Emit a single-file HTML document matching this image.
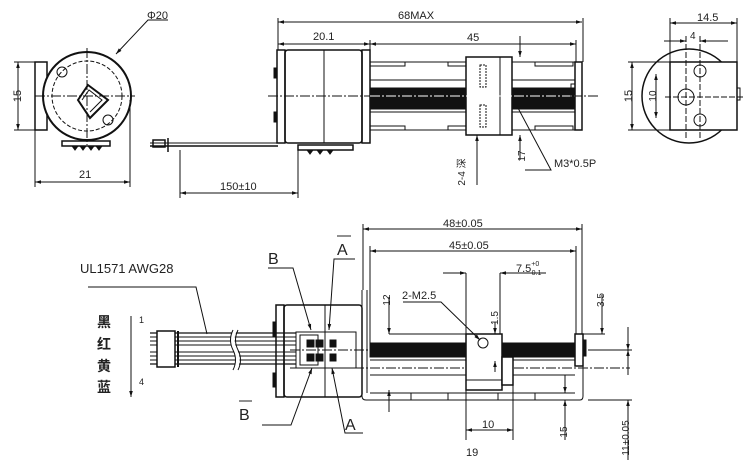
<!DOCTYPE html>
<html><head><meta charset="utf-8"><style>
html,body{margin:0;padding:0;background:#fff}
svg{display:block}
text{font-family:"Liberation Sans","Noto Sans CJK SC",sans-serif;fill:#222}
</style></head><body>
<svg width="750" height="474" viewBox="0 0 750 474" xmlns="http://www.w3.org/2000/svg">
<defs>
<marker id="a" viewBox="0 0 10 10" refX="10" refY="5" markerWidth="8" markerHeight="6" orient="auto-start-reverse"><path d="M0,2 L10,5 L0,8z" fill="#111"/></marker>
</defs>
<g stroke="#111" fill="none" stroke-width="1">
<!-- ===== top-left end view ===== -->
<rect x="35" y="62" width="12" height="68" stroke-width="1.5"/>
<circle cx="87" cy="96" r="44" stroke-width="2" fill="#fff"/>
<circle cx="87" cy="96" r="35" stroke-dasharray="4,2"/>
<line x1="35" y1="96" x2="135" y2="96" stroke-dasharray="10,2,2,2"/>
<line x1="87" y1="48" x2="87" y2="145" stroke-dasharray="10,2,2,2"/>
<circle cx="62" cy="72" r="5"/><circle cx="108" cy="120" r="5"/>
<path d="M78,100 L88,85 L108,100 L90,118 Z" stroke-width="2"/>
<path d="M82,100 L89,90 L102,100 L90,112" stroke-width="1"/>
<rect x="62" y="141" width="48" height="5" stroke-width="1.5"/>
<path d="M72,146 l3,4 3,-4 M80,146 l3,4 3,-4 M88,146 l3,4 3,-4 M96,146 l3,4 3,-4" fill="#111"/>
<line x1="18" y1="62" x2="18" y2="130" marker-start="url(#a)" marker-end="url(#a)"/>
<line x1="14" y1="62" x2="35" y2="62"/><line x1="14" y1="130" x2="35" y2="130"/>
<line x1="35" y1="130" x2="35" y2="187"/><line x1="130" y1="100" x2="130" y2="187"/>
<line x1="35" y1="182" x2="130" y2="182" marker-start="url(#a)" marker-end="url(#a)"/>
<path d="M168,20 L148,20 L116,54" marker-end="url(#a)"/>
<!-- ===== top middle side view ===== -->
<rect x="277" y="50" width="8" height="93" stroke-width="1.5"/>
<rect x="285" y="50" width="77" height="93" rx="3" stroke-width="1.5"/>
<line x1="324" y1="50" x2="324" y2="143"/>
<rect x="362" y="50" width="8" height="93" stroke-width="1.5"/>
<rect x="274" y="68" width="3" height="10" fill="#111"/><rect x="274" y="112" width="3" height="10" fill="#111"/>
<line x1="268" y1="96" x2="600" y2="96" stroke-dasharray="10,2,2,2"/>
<rect x="370" y="62" width="205" height="68"/>
<rect x="370" y="62" width="35" height="4"/><rect x="448" y="62" width="18" height="4"/><rect x="535" y="62" width="38" height="4"/>
<rect x="370" y="126" width="35" height="4"/><rect x="448" y="126" width="18" height="4"/><rect x="535" y="126" width="38" height="4"/>
<line x1="370" y1="80" x2="575" y2="80"/><line x1="370" y1="112" x2="575" y2="112"/>
<rect x="370" y="88" width="205" height="21" fill="#111"/>
<rect x="466" y="57" width="46" height="78" fill="#fff" stroke-width="1.5"/>
<line x1="500" y1="57" x2="500" y2="135"/>
<rect x="480" y="65" width="6" height="22" stroke-dasharray="2,1"/><rect x="480" y="105" width="6" height="22" stroke-dasharray="2,1"/>
<line x1="370" y1="96" x2="575" y2="96" stroke="#fff" stroke-dasharray="10,2,2,2"/>
<rect x="575" y="62" width="7" height="68" stroke-width="1.5"/>
<rect x="571" y="84" width="4" height="24"/>
<line x1="150" y1="146" x2="278" y2="146" stroke-width="1.5"/>
<line x1="150" y1="143" x2="278" y2="143"/>
<rect x="153" y="140" width="12" height="7" stroke-width="1.5"/>
<line x1="168" y1="138" x2="168" y2="152" stroke-width="1.5"/>
<rect x="298" y="145" width="55" height="5" stroke-width="1.5" fill="#fff"/>
<path d="M307,150 l3,4 3,-4 M317,150 l3,4 3,-4 M327,150 l3,4 3,-4" fill="#111"/>
<line x1="278" y1="18" x2="278" y2="50"/><line x1="583" y1="18" x2="583" y2="62"/>
<line x1="278" y1="22" x2="582" y2="22" marker-start="url(#a)" marker-end="url(#a)"/>
<line x1="370" y1="40" x2="370" y2="50"/><line x1="576" y1="40" x2="576" y2="62"/>
<line x1="278" y1="44" x2="370" y2="44" marker-start="url(#a)" marker-end="url(#a)"/>
<line x1="370" y1="44" x2="576" y2="44" marker-start="url(#a)" marker-end="url(#a)"/>
<line x1="180" y1="150" x2="180" y2="198"/><line x1="298" y1="150" x2="298" y2="198"/>
<line x1="180" y1="193" x2="298" y2="193" marker-start="url(#a)" marker-end="url(#a)"/>
<line x1="520" y1="36" x2="520" y2="57" marker-end="url(#a)"/><line x1="520" y1="135" x2="520" y2="160" marker-start="url(#a)"/>
<line x1="477" y1="135" x2="477" y2="185" marker-start="url(#a)"/>
<path d="M525,170 L551,170 L518,108"/>
<!-- ===== top right end view ===== -->
<circle cx="689" cy="96" r="47" stroke-width="1.5"/>
<rect x="670" y="62" width="67" height="68" stroke-width="1.5" fill="#fff"/>
<rect x="737" y="88" width="3" height="12"/>
<circle cx="686" cy="97" r="8"/><circle cx="700" cy="71" r="6"/><circle cx="700" cy="120" r="6"/>
<line x1="665" y1="97" x2="745" y2="97" stroke-dasharray="6,2"/>
<line x1="686" y1="36" x2="686" y2="140" stroke-dasharray="6,2"/><line x1="700" y1="36" x2="700" y2="140" stroke-dasharray="6,2"/>
<line x1="670" y1="18" x2="670" y2="62"/><line x1="737" y1="18" x2="737" y2="62"/>
<line x1="670" y1="23" x2="737" y2="23" marker-start="url(#a)" marker-end="url(#a)"/>
<line x1="664" y1="41" x2="686" y2="41" marker-end="url(#a)"/><line x1="700" y1="41" x2="728" y2="41" marker-start="url(#a)"/>
<line x1="632" y1="62" x2="632" y2="130" marker-start="url(#a)" marker-end="url(#a)"/>
<line x1="628" y1="62" x2="670" y2="62"/><line x1="628" y1="130" x2="670" y2="130"/>
<line x1="656" y1="74" x2="656" y2="118" marker-start="url(#a)" marker-end="url(#a)"/>
<!-- ===== bottom view ===== -->
<rect x="276" y="305" width="8" height="92" stroke-width="1.5"/>
<rect x="284" y="305" width="78" height="92" rx="3" stroke-width="1.5"/>
<line x1="325" y1="305" x2="325" y2="397"/>
<rect x="273" y="322" width="3" height="14" fill="#111"/><rect x="273" y="373" width="3" height="14" fill="#111"/>
<rect x="296" y="332" width="60" height="36"/>
<rect x="300" y="335" width="18" height="30"/>
<rect x="307" y="340" width="7" height="7" fill="#111"/><rect x="316" y="340" width="7" height="7" fill="#111"/><rect x="330" y="340" width="6" height="7" fill="#111"/>
<rect x="307" y="354" width="7" height="7" fill="#111"/><rect x="316" y="354" width="7" height="7" fill="#111"/><rect x="330" y="354" width="6" height="7" fill="#111"/>
<path d="M362,290 L362,396 Q362,400 366,400 L580,400 Q583,400 583,396 L583,365"/>
<line x1="367" y1="290" x2="367" y2="393"/>
<line x1="370" y1="393" x2="575" y2="393"/>
<rect x="370" y="343" width="205" height="14" fill="#111"/>
<line x1="370" y1="360" x2="575" y2="360"/><line x1="370" y1="375" x2="575" y2="375"/>
<line x1="290" y1="368" x2="630" y2="368" stroke-dasharray="10,2,2,2"/>
<line x1="290" y1="350" x2="370" y2="350" stroke-dasharray="10,2,2,2"/>
<path d="M411,393 v7 M448,393 v7 M498,393 v7 M535,393 v7"/>
<rect x="466" y="334" width="36" height="56" fill="#fff" stroke-width="1.5"/>
<rect x="502" y="357" width="11" height="28" fill="#fff" stroke-width="1.5"/>
<line x1="466" y1="380" x2="502" y2="380"/>
<circle cx="483" cy="343" r="5"/>
<rect x="575" y="334" width="8" height="32" stroke-width="1.5" fill="#fff"/>
<rect x="583" y="340" width="3" height="16" fill="#111"/>
<line x1="150" y1="333" x2="296" y2="333" stroke-width="1.2"/><line x1="150" y1="337" x2="296" y2="337"/>
<line x1="150" y1="341" x2="296" y2="341"/><line x1="150" y1="345" x2="296" y2="345"/>
<line x1="150" y1="352" x2="296" y2="352"/><line x1="150" y1="356" x2="296" y2="356"/>
<line x1="150" y1="360" x2="296" y2="360"/><line x1="150" y1="364" x2="296" y2="364" stroke-width="1.2"/>
<rect x="157" y="331" width="18" height="36" stroke-width="1.5" fill="#fff"/>
<line x1="178" y1="331" x2="178" y2="367" stroke-width="2"/>
<path d="M235,330 q-5,10 0,20 q5,10 0,20" stroke="#fff" stroke-width="4"/>
<path d="M233,330 q-5,10 0,20 q5,10 0,20 M238,330 q-5,10 0,20 q5,10 0,20"/>
<path d="M88,287 L196,287 L207,334"/>
<line x1="131" y1="316" x2="131" y2="397" marker-end="url(#a)"/>
<path d="M268,268 L293,268 L311,330" marker-end="url(#a)"/>
<path d="M355,259 L334,259 L329,330" marker-end="url(#a)"/>
<path d="M262,425 L291,425 L312,368" marker-end="url(#a)"/>
<path d="M363,433 L345,433 L332,368" marker-end="url(#a)"/>
<line x1="363" y1="224" x2="363" y2="290"/><line x1="582" y1="224" x2="582" y2="334"/>
<line x1="363" y1="229" x2="582" y2="229" marker-start="url(#a)" marker-end="url(#a)"/>
<line x1="370" y1="246" x2="370" y2="343"/><line x1="576" y1="246" x2="576" y2="334"/>
<line x1="370" y1="251" x2="576" y2="251" marker-start="url(#a)" marker-end="url(#a)"/>
<line x1="443" y1="273" x2="466" y2="273" marker-end="url(#a)"/>
<line x1="466" y1="273" x2="466" y2="334"/><line x1="500" y1="273" x2="500" y2="334"/>
<line x1="546" y1="273" x2="500" y2="273" marker-end="url(#a)"/>
<line x1="389" y1="297" x2="389" y2="334" marker-end="url(#a)"/><line x1="389" y1="334" x2="466" y2="334"/>
<path d="M403,302 L441,302 L480,340" marker-end="url(#a)"/>
<line x1="495" y1="322" x2="495" y2="334" marker-end="url(#a)"/><line x1="495" y1="361" x2="495" y2="372" marker-start="url(#a)"/>
<line x1="602" y1="295" x2="602" y2="334" marker-end="url(#a)"/><line x1="583" y1="334" x2="605" y2="334"/>
<line x1="628" y1="327" x2="628" y2="350" marker-end="url(#a)"/><line x1="628" y1="350" x2="628" y2="375" marker-start="url(#a)"/>
<line x1="588" y1="350" x2="632" y2="350"/>
<line x1="389" y1="390" x2="389" y2="412" marker-start="url(#a)"/>
<line x1="466" y1="390" x2="466" y2="440"/><line x1="513" y1="385" x2="513" y2="440"/>
<line x1="466" y1="430" x2="513" y2="430" marker-start="url(#a)" marker-end="url(#a)"/>
<line x1="565" y1="375" x2="565" y2="393" marker-end="url(#a)"/><line x1="565" y1="400" x2="565" y2="440" marker-start="url(#a)"/>
<line x1="588" y1="400" x2="632" y2="400"/>
<line x1="628" y1="400" x2="628" y2="460" marker-start="url(#a)"/>
</g>
<g font-size="11">
<text x="147" y="19">Φ20</text>
<text x="79" y="178">21</text>
<text x="15" y="102" transform="rotate(-90 15 96)" text-anchor="middle">15</text>
<text x="398" y="19">68MAX</text>
<text x="313" y="40">20.1</text>
<text x="467" y="41">45</text>
<text x="220" y="190">150±10</text>
<text x="554" y="167">M3*0.5P</text>
<text x="525" y="156" transform="rotate(-90 525 156)" text-anchor="middle" font-size="10">17</text>
<text x="465" y="172" transform="rotate(-90 465 172)" text-anchor="middle" font-size="10">2-4 深</text>
<text x="697" y="21">14.5</text>
<text x="690" y="39" font-size="10">4</text>
<text x="628" y="100" transform="rotate(-90 628 96)" text-anchor="middle">15</text>
<text x="652" y="100" transform="rotate(-90 652 96)" text-anchor="middle" font-size="10">10</text>
<text x="80" y="273" font-size="13">UL1571 AWG28</text>
<text x="268" y="264" font-size="16">B</text>
<text x="337" y="255" font-size="16">A</text>
<line x1="337" y1="236" x2="351" y2="236" stroke="#222"/>
<text x="239" y="420" font-size="16">B</text>
<line x1="239" y1="401" x2="252" y2="401" stroke="#222"/>
<text x="345" y="430" font-size="16">A</text>
<g font-size="14" font-weight="bold"><text x="97" y="327">黑</text><text x="97" y="349">红</text><text x="97" y="371">黄</text><text x="97" y="392">蓝</text></g>
<text x="139" y="323" font-size="9" font-family="Liberation Serif">1</text>
<text x="139" y="385" font-size="9" font-family="Liberation Serif">4</text>
<text x="443" y="227">48±0.05</text>
<text x="449" y="249">45±0.05</text>
<text x="516" y="272">7.5<tspan font-size="7" dy="-6">+0</tspan><tspan font-size="7" dx="-10" dy="9">-0.1</tspan></text>
<text x="402" y="299" font-size="11">2-M2.5</text>
<text x="386" y="304" transform="rotate(-90 386 300)" text-anchor="middle" font-size="10">12</text>
<text x="494" y="322" transform="rotate(-90 494 318)" text-anchor="middle" font-size="10">1.5</text>
<text x="600" y="304" transform="rotate(-90 600 300)" text-anchor="middle" font-size="10">3.5</text>
<text x="482" y="428">10</text>
<text x="563" y="436" transform="rotate(-90 563 432)" text-anchor="middle" font-size="10">15</text>
<text x="466" y="456">19</text>
<text x="625" y="442" transform="rotate(-90 625 438)" text-anchor="middle" font-size="10">11±0.05</text>
</g>
</svg>
</body></html>
